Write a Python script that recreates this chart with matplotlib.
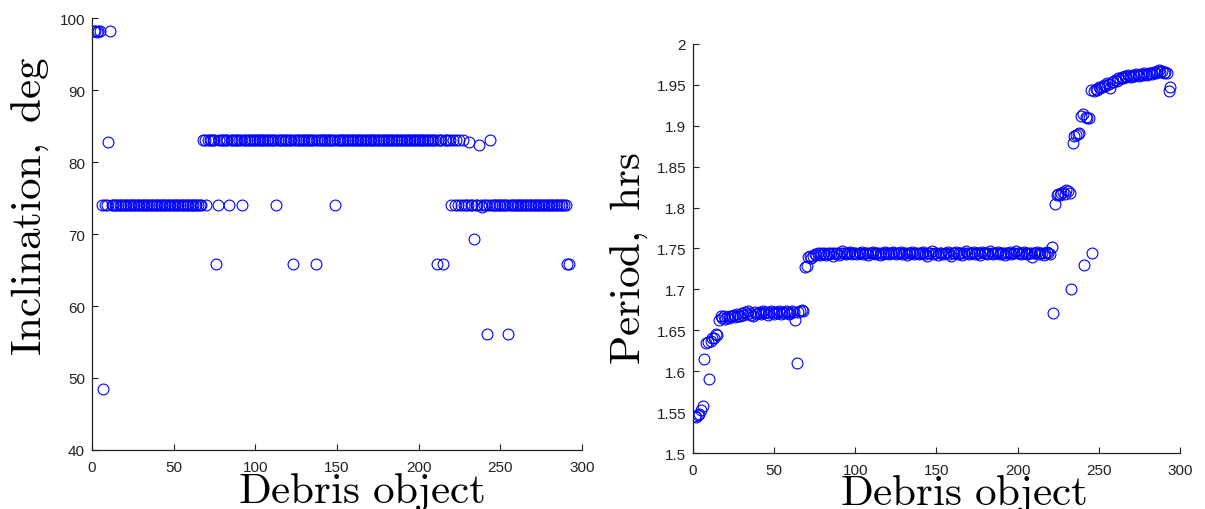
import numpy as np
import matplotlib
matplotlib.use('Agg')
import matplotlib.pyplot as plt

plt.rcParams['font.family'] = ['Liberation Sans', 'DejaVu Sans']
plt.rcParams['mathtext.fontset'] = 'cm'

# inclination (deg) per debris object
inclination = [
    98.2, 98.2, 98.1, 98.2, 98.2, 74.0, 48.5, 74.0, 74.0, 82.8,
    98.2, 74.0, 74.0, 74.0, 74.0, 74.0, 74.0, 74.0, 74.0, 74.0,
    74.0, 74.0, 74.0, 74.0, 74.0, 74.0, 74.0, 74.0, 74.0, 74.0,
    74.0, 74.0, 74.0, 74.0, 74.0, 74.0, 74.0, 74.0, 74.0, 74.0,
    74.0, 74.0, 74.0, 74.0, 74.0, 74.0, 74.0, 74.0, 74.0, 74.0,
    74.0, 74.0, 74.0, 74.0, 74.0, 74.0, 74.0, 74.0, 74.0, 74.0,
    74.0, 74.0, 74.0, 74.0, 74.0, 74.0, 74.0, 83.0, 83.0, 74.0,
    83.0, 83.0, 83.0, 83.0, 83.0, 65.8, 74.0, 83.0, 83.0, 83.0,
    83.0, 83.0, 83.0, 74.0, 83.0, 83.0, 83.0, 83.0, 83.0, 83.0,
    83.0, 74.0, 83.0, 83.0, 83.0, 83.0, 83.0, 83.0, 83.0, 83.0,
    83.0, 83.0, 83.0, 83.0, 83.0, 83.0, 83.0, 83.0, 83.0, 83.0,
    83.0, 83.0, 74.0, 83.0, 83.0, 83.0, 83.0, 83.0, 83.0, 83.0,
    83.0, 83.0, 65.8, 83.0, 83.0, 83.0, 83.0, 83.0, 83.0, 83.0,
    83.0, 83.0, 83.0, 83.0, 83.0, 83.0, 65.8, 83.0, 83.0, 83.0,
    83.0, 83.0, 83.0, 83.0, 83.0, 83.0, 83.0, 83.0, 74.0, 83.0,
    83.0, 83.0, 83.0, 83.0, 83.0, 83.0, 83.0, 83.0, 83.0, 83.0,
    83.0, 83.0, 83.0, 83.0, 83.0, 83.0, 83.0, 83.0, 83.0, 83.0,
    83.0, 83.0, 83.0, 83.0, 83.0, 83.0, 83.0, 83.0, 83.0, 83.0,
    83.0, 83.0, 83.0, 83.0, 83.0, 83.0, 83.0, 83.0, 83.0, 83.0,
    83.0, 83.0, 83.0, 83.0, 83.0, 83.0, 83.0, 83.0, 83.0, 83.0,
    83.0, 83.0, 83.0, 83.0, 83.0, 83.0, 83.0, 83.0, 83.0, 83.0,
    65.8, 83.0, 83.0, 83.0, 65.8, 83.0, 83.0, 83.0, 83.0, 74.0,
    83.0, 74.0, 83.0, 74.0, 83.0, 74.0, 83.0, 74.0, 74.0, 74.0,
    82.8, 74.0, 74.0, 69.3, 74.0, 74.0, 82.4, 74.0, 73.7, 74.0,
    74.0, 56.1, 74.0, 83.0, 74.0, 74.0, 74.0, 74.0, 74.0, 74.0,
    74.0, 74.0, 74.0, 74.0, 56.1, 74.0, 74.0, 74.0, 74.0, 74.0,
    74.0, 74.0, 74.0, 74.0, 74.0, 74.0, 74.0, 74.0, 74.0, 74.0,
    74.0, 74.0, 74.0, 74.0, 74.0, 74.0, 74.0, 74.0, 74.0, 74.0,
    74.0, 74.0, 74.0, 74.0, 74.0, 74.0, 74.0, 74.0, 74.0, 74.0,
    65.8, 65.9,
]

# orbital period (hrs) per debris object
period = [
    1.545, 1.544, 1.546, 1.548, 1.552, 1.558, 1.615, 1.634, 1.636, 1.590,
    1.637, 1.640, 1.641, 1.645, 1.644, 1.662, 1.668, 1.665, 1.667, 1.664,
    1.666, 1.665, 1.668, 1.667, 1.669, 1.666, 1.670, 1.668, 1.667, 1.671,
    1.669, 1.672, 1.670, 1.673, 1.671, 1.669, 1.668, 1.672, 1.670, 1.671,
    1.672, 1.670, 1.673, 1.671, 1.672, 1.669, 1.671, 1.673, 1.672, 1.670,
    1.672, 1.671, 1.673, 1.670, 1.672, 1.671, 1.673, 1.672, 1.670, 1.671,
    1.673, 1.672, 1.662, 1.610, 1.672, 1.674, 1.675, 1.674, 1.727, 1.729,
    1.740, 1.741, 1.738, 1.741, 1.743, 1.742, 1.744, 1.742, 1.745, 1.743,
    1.744, 1.742, 1.745, 1.743, 1.744, 1.741, 1.745, 1.743, 1.744, 1.742,
    1.745, 1.747, 1.744, 1.743, 1.745, 1.744, 1.746, 1.743, 1.745, 1.744,
    1.743, 1.745, 1.744, 1.746, 1.743, 1.745, 1.744, 1.742, 1.745, 1.744,
    1.746, 1.743, 1.745, 1.744, 1.742, 1.745, 1.743, 1.746, 1.744, 1.745,
    1.743, 1.745, 1.746, 1.744, 1.743, 1.745, 1.744, 1.746, 1.743, 1.745,
    1.744, 1.742, 1.745, 1.744, 1.746, 1.743, 1.745, 1.744, 1.743, 1.745,
    1.744, 1.746, 1.743, 1.741, 1.745, 1.744, 1.747, 1.743, 1.745, 1.744,
    1.742, 1.745, 1.744, 1.743, 1.745, 1.744, 1.746, 1.743, 1.741, 1.745,
    1.744, 1.746, 1.743, 1.745, 1.744, 1.742, 1.745, 1.747, 1.744, 1.743,
    1.745, 1.744, 1.746, 1.743, 1.745, 1.744, 1.742, 1.746, 1.744, 1.745,
    1.743, 1.745, 1.747, 1.744, 1.743, 1.745, 1.744, 1.746, 1.743, 1.745,
    1.744, 1.742, 1.745, 1.744, 1.746, 1.743, 1.745, 1.744, 1.747, 1.745,
    1.744, 1.743, 1.745, 1.746, 1.744, 1.743, 1.745, 1.744, 1.740, 1.745,
    1.744, 1.746, 1.743, 1.745, 1.744, 1.742, 1.745, 1.746, 1.744, 1.743,
    1.752, 1.671, 1.804, 1.815, 1.817, 1.816, 1.818, 1.819, 1.817, 1.821,
    1.820, 1.818, 1.700, 1.879, 1.887, 1.889, 1.890, 1.891, 1.912, 1.915,
    1.730, 1.911, 1.910, 1.909, 1.944, 1.744, 1.943, 1.945, 1.944, 1.947,
    1.946, 1.948, 1.950, 1.949, 1.952, 1.951, 1.946, 1.954, 1.953, 1.956,
    1.955, 1.958, 1.957, 1.960, 1.959, 1.961, 1.960, 1.962, 1.961, 1.960,
    1.962, 1.961, 1.963, 1.962, 1.961, 1.963, 1.962, 1.964, 1.963, 1.962,
    1.964, 1.965, 1.963, 1.966, 1.964, 1.967, 1.968, 1.966, 1.967, 1.965,
    1.966, 1.965, 1.943, 1.948,
]

inc_ticks = [40, 50, 60, 70, 80, 90, 100]
per_ticks = [1.5, 1.55, 1.6, 1.65, 1.7, 1.75, 1.8, 1.85, 1.9, 1.95, 2.0]
per_labels = ['1.5', '1.55', '1.6', '1.65', '1.7', '1.75', '1.8', '1.85', '1.9', '1.95', '2']
x_ticks = [0, 50, 100, 150, 200, 250, 300]

fig = plt.figure(figsize=(12.05, 5.1), dpi=100)
ax1 = fig.add_axes([0.0763, 0.1157, 0.4066, 0.847])
ax2 = fig.add_axes([0.5751, 0.1098, 0.4041, 0.802])


def style(ax):
    for s in ['top', 'right']:
        ax.spines[s].set_visible(False)
    for s in ['left', 'bottom']:
        ax.spines[s].set_linewidth(0.9)
        ax.spines[s].set_color('#222222')
    ax.tick_params(direction='in', length=4, width=0.8, labelsize=11, colors='#222222')
    ax.tick_params(axis='x', pad=7)
    ax.tick_params(axis='y', pad=5)
    ax.set_xlim(0, 300)
    ax.set_xticks(x_ticks)


mk = dict(linestyle='none', marker='o', markersize=7.8, markerfacecolor='none',
          markeredgecolor='#0000ff', markeredgewidth=0.8)

x1 = np.arange(1, len(inclination) + 1)
ax1.plot(x1, inclination, **mk)
style(ax1)
ax1.set_ylim(40, 100)
ax1.set_yticks(inc_ticks)
ax1.set_xlabel(r'$\mathrm{Debris\ object}$', fontsize=31)
ax1.set_ylabel(r'$\mathrm{Inclination,\ deg}$', fontsize=31)
ax1.xaxis.set_label_coords(0.551, -0.046)
ax1.yaxis.set_label_coords(-0.084, 0.567)

x2 = np.arange(1, len(period) + 1)
ax2.plot(x2, period, **mk)
style(ax2)
ax2.set_ylim(1.5, 2.0)
ax2.set_yticks(per_ticks)
ax2.set_yticklabels(per_labels)
ax2.set_xlabel(r'$\mathrm{Debris\ object}$', fontsize=31)
ax2.set_ylabel(r'$\mathrm{Period,\ hrs}$', fontsize=31)
ax2.xaxis.set_label_coords(0.556, -0.046)
ax2.yaxis.set_label_coords(-0.088, 0.479)

fig.savefig('out.png', dpi=100)
